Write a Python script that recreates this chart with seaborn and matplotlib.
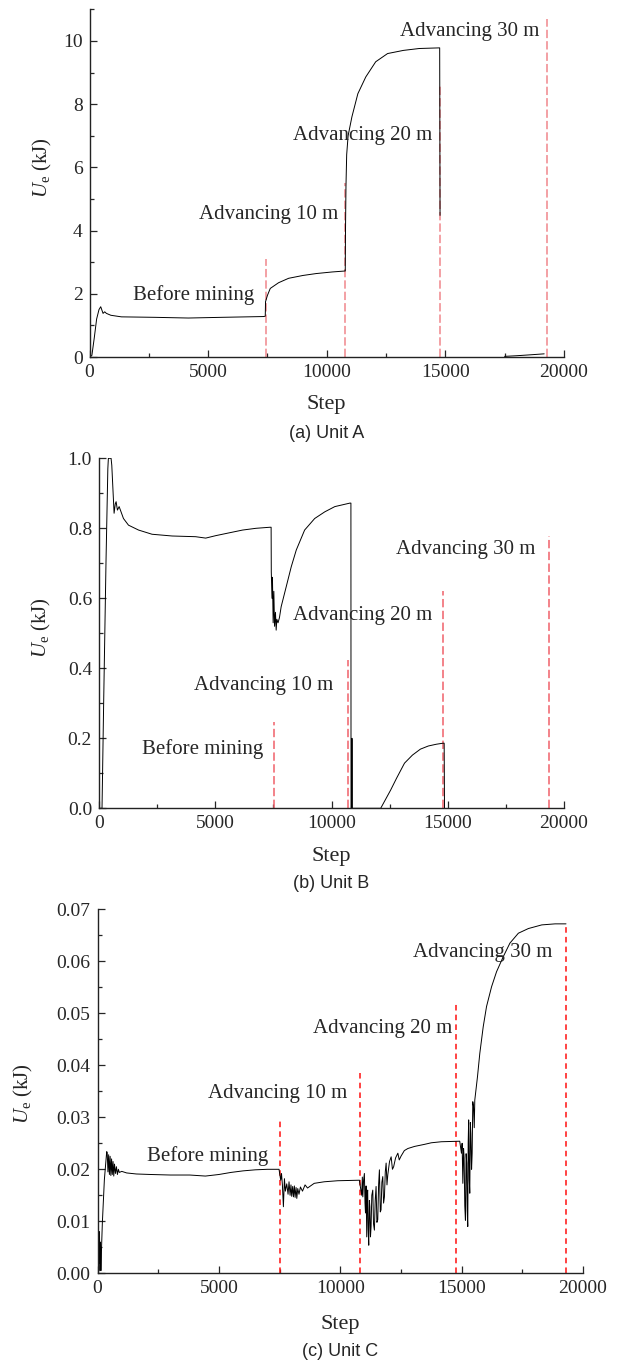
import numpy as np
import pandas as pd
import seaborn as sns
import matplotlib.pyplot as plt
from matplotlib.ticker import MultipleLocator

# ---- Unit A ----
a_step = [0, 100, 200, 300, 400, 473, 571, 641, 712, 900, 1346, 2757, 4165, 5573, 7336, 7408,
          7420, 7500, 7620, 7970, 8393, 9000, 9557, 10225, 10760, 10780, 10790, 10810, 10840,
          10900, 11061, 11311, 11645, 12063, 12564, 13233, 13901, 14760, 14775]
a_ue = [0, 0.05, 0.6, 1.2, 1.5, 1.59, 1.38, 1.43, 1.38, 1.32, 1.27, 1.255, 1.233, 1.255, 1.28, 1.29,
        1.75, 1.95, 2.17, 2.35, 2.49, 2.58, 2.64, 2.69, 2.72, 2.72, 4.0, 5.4, 6.4,
        7.0, 7.6, 8.33, 8.86, 9.34, 9.6, 9.7, 9.76, 9.78, 4.48]
a_tail_step = [17494, 18000, 18600, 19165]
a_tail_ue = [0.02, 0.04, 0.07, 0.10]
a_mine = [7419, 10777, 14787, 19298]
a_mine_top = [3.09, 5.5, 8.58, 10.69]

# ---- Unit B ----
b_step = [0, 130, 200, 300, 380, 403, 519, 550, 649, 700, 736, 792, 866, 1052, 1268, 1701, 2281,
          3147, 4156, 4589, 5022, 5597, 6177, 6753, 7350, 7403, 7410, 7440, 7460, 7490, 7520,
          7550, 7590, 7620, 7650, 7700, 7762, 7835, 8052, 8268, 8485, 8844, 9277, 9710, 10143,
          10792, 10835, 10840, 10860, 10880, 10900, 12116, 12543, 12799, 13140, 13481, 13823,
          14164, 14505, 14795, 14846, 14860]
b_ue = [0, 0, 0.3, 0.7, 0.97, 1.0, 1.0, 0.98, 0.843, 0.87, 0.876, 0.852, 0.862, 0.828, 0.809,
        0.795, 0.783, 0.778, 0.776, 0.772, 0.779, 0.787, 0.795, 0.80, 0.803, 0.803, 0.676, 0.60,
        0.66, 0.53, 0.62, 0.52, 0.56, 0.509, 0.54, 0.53, 0.545, 0.576, 0.633, 0.69, 0.738,
        0.795, 0.828, 0.847, 0.862, 0.872, 0.872, 0.0, 0.0, 0.2, 0.0, 0.0, 0.052, 0.086, 0.129,
        0.152, 0.169, 0.178, 0.183, 0.186, 0.186, 0.0]
b_mine = [7509, 10700, 14795, 19334]
b_mine_top = [0.248, 0.424, 0.621, 0.778]

# ---- Unit C ----
c_step = [0, 20, 40, 60, 80, 100, 120, 140, 160, 200, 283, 379, 400, 430, 460, 490, 520, 550,
          580, 610, 640, 670, 700, 740, 780, 820, 860, 900, 1000, 1200, 1600, 2200, 3000, 3800,
          4446, 5000, 5500, 6000, 6500, 7000, 7478,
          7547, 7580, 7617, 7658, 7700, 7740, 7796, 7850, 7890, 7934, 7970, 8000, 8040, 8072,
          8110, 8140, 8180, 8210, 8250, 8300, 8360, 8445, 8550, 8652,
          8927, 9340, 9892, 10787,
          10884, 10910, 10930, 10960, 10994, 11020, 11040, 11065, 11091, 11110, 11130, 11150,
          11174, 11200, 11220, 11245, 11270, 11300, 11340, 11370, 11407, 11440, 11476, 11510,
          11545, 11580, 11613, 11650, 11680, 11715, 11752, 11785, 11820, 11855, 11890, 11925,
          11960, 12030, 12097, 12150, 12200, 12280, 12373, 12430, 12500, 12640, 12786,
          13061, 13474, 13751, 14165, 14922,
          14992, 15020, 15050, 15080, 15103, 15130, 15157, 15185, 15210, 15230, 15253, 15270,
          15290, 15315, 15336, 15360, 15380, 15410, 15434, 15460, 15490, 15520, 15542,
          15653, 15749, 15889, 16026, 16233, 16439, 16716, 16990, 17337, 17750, 18300, 18851,
          19300]
c_ue = [0.006, 0.001, 0.0075, 0.0005, 0.008, 0.002, 0.006, 0.0005, 0.004, 0.0097, 0.018, 0.0234,
        0.0232, 0.0195, 0.0228, 0.0190, 0.0225, 0.0188, 0.0220, 0.0190, 0.0215, 0.0187, 0.0210,
        0.0192, 0.0205, 0.0190, 0.0200, 0.0194, 0.0196, 0.0193, 0.0191, 0.0190, 0.0189, 0.0189,
        0.0187, 0.0190, 0.0194, 0.0197, 0.0199, 0.0200, 0.0200,
        0.0179, 0.0192, 0.0170, 0.0128, 0.0182, 0.0158, 0.0172, 0.0152, 0.0176, 0.0150, 0.0170,
        0.0148, 0.0167, 0.0147, 0.0168, 0.0146, 0.0165, 0.0144, 0.0163, 0.0152, 0.0166, 0.0158,
        0.0170, 0.0164,
        0.0173, 0.0176, 0.0178, 0.0179,
        0.0150, 0.0185, 0.0147, 0.0178, 0.0192, 0.0135, 0.0116, 0.0168, 0.0070, 0.0150, 0.0160,
        0.0085, 0.0054, 0.0140, 0.0128, 0.0070, 0.0090, 0.0150, 0.0160, 0.0095, 0.0083, 0.0140,
        0.0167, 0.0098, 0.0103, 0.0170, 0.0199, 0.0118, 0.0122, 0.0175, 0.0186, 0.0135, 0.0147,
        0.0195, 0.0212, 0.0170, 0.0190, 0.0215, 0.0224, 0.0200, 0.0205, 0.0222, 0.0231, 0.0218,
        0.0225, 0.0236, 0.0240,
        0.0244, 0.0248, 0.0251, 0.0253, 0.0254,
        0.0231, 0.0250, 0.0173, 0.0240, 0.0222, 0.0130, 0.0102, 0.0230, 0.0212, 0.0120, 0.0090,
        0.0250, 0.0295, 0.0180, 0.0154, 0.0290, 0.0269, 0.0200, 0.0231, 0.0330, 0.0321, 0.0280,
        0.0333, 0.0378, 0.0423, 0.0474, 0.0513, 0.0551, 0.0580, 0.0609, 0.0635, 0.0654, 0.0663,
        0.0670, 0.0672, 0.0672]
c_mine = [7510, 10824, 14776, 19298]
c_mine_top = [0.0293, 0.0389, 0.0519, 0.0667]

stage_labels = ['Before mining', 'Advancing 10 m', 'Advancing 20 m', 'Advancing 30 m']
a_lab_x = [6934, 10476, 14436, 18947]
a_lab_y = [1.79, 4.36, 6.86, 10.16]
b_lab_x = [7082, 10068, 14334, 18771]
b_lab_y = [0.154, 0.338, 0.538, 0.726]
c_lab_x = [7020, 10286, 14612, 18727]
c_lab_y = [0.0215, 0.0337, 0.0463, 0.0608]

sns.set_theme(style='ticks')
plt.rcParams['font.family'] = ['Liberation Serif', 'DejaVu Serif']
plt.rcParams['mathtext.fontset'] = 'custom'
plt.rcParams['mathtext.rm'] = 'Liberation Serif'
plt.rcParams['mathtext.it'] = 'Liberation Serif:italic'
plt.rcParams['lines.scale_dashes'] = False

W, H = 619, 1364
fig = plt.figure(figsize=(W / 100, H / 100), dpi=100)

panels = [
    dict(pos=(89.5, 9.3, 564, 357), ylim=(0, 11), major=2, minor=1, fmt='{:.0f}',
         mine=a_mine, top=a_mine_top, color='#F0868C', dash=(6, 2.2), lx=a_lab_x, ly=a_lab_y,
         ylab=(42, 168), step_y=405, cap_y=434, cap='(a) Unit A'),
    dict(pos=(99, 458.3, 564, 808.3), ylim=(0, 1.0), major=0.2, minor=0.1, fmt='{:.1f}',
         mine=b_mine, top=b_mine_top, color='#F0606A', dash=(6, 2.5), lx=b_lab_x, ly=b_lab_y,
         ylab=(41, 628), step_y=856, cap_y=884, cap='(b) Unit B'),
    dict(pos=(97.5, 909.3, 583, 1273.3), ylim=(0, 0.07), major=0.01, minor=0.005, fmt='{:.2f}',
         mine=c_mine, top=c_mine_top, color='#FF1010', dash=(4, 3), lx=c_lab_x, ly=c_lab_y,
         ylab=(23, 1094), step_y=1324, cap_y=1351, cap='(c) Unit C'),
]
curves = [
    [pd.DataFrame({'Step': a_step, 'Ue': a_ue}), pd.DataFrame({'Step': a_tail_step, 'Ue': a_tail_ue})],
    [pd.DataFrame({'Step': b_step, 'Ue': b_ue})],
    [pd.DataFrame({'Step': c_step, 'Ue': c_ue})],
]

for p, segs in zip(panels, curves):
    x0, y0, x1, y1 = p['pos']
    ax = fig.add_axes([x0 / W, 1 - y1 / H, (x1 - x0) / W, (y1 - y0) / H])
    ax.vlines(p['mine'], 0, p['top'], colors=p['color'], linewidth=1.1,
              linestyles=(0, p['dash']), zorder=1)
    for d in segs:
        sns.lineplot(data=d, x='Step', y='Ue', ax=ax, color='black', linewidth=0.7,
                     sort=False, estimator=None, zorder=2)
    for t, tx, ty in zip(stage_labels, p['lx'], p['ly']):
        ax.text(tx, ty, t, ha='right', va='baseline', fontsize=15)
    ax.set_xlim(0, 20000)
    ax.set_ylim(*p['ylim'])
    ax.xaxis.set_major_locator(MultipleLocator(5000))
    ax.xaxis.set_minor_locator(MultipleLocator(2500))
    ax.yaxis.set_major_locator(MultipleLocator(p['major']))
    ax.yaxis.set_minor_locator(MultipleLocator(p['minor']))
    ax.set_yticks(ax.get_yticks())
    ax.set_yticklabels([p['fmt'].format(v) for v in ax.get_yticks()])
    ax.set_ylim(*p['ylim'])
    ax.set_xlabel('')
    ax.set_ylabel('')
    ax.tick_params(which='both', direction='in', width=0.9, labelsize=14, pad=5)
    ax.tick_params(which='major', length=5)
    ax.tick_params(which='minor', length=3)
    sns.despine(ax=ax)
    for s in ['left', 'bottom']:
        ax.spines[s].set_linewidth(1.0)
        ax.spines[s].set_color('#222222')
    cx = (x0 + x1) / 2
    fig.text(p['ylab'][0] / W, 1 - p['ylab'][1] / H, r'$U_{\mathrm{e}}$ (kJ)', rotation=90,
             ha='center', va='center', fontsize=15)
    fig.text(cx / W, 1 - p['step_y'] / H, 'Step', ha='center', va='center', fontsize=16)
    fig.text(cx / W, 1 - p['cap_y'] / H, p['cap'], ha='center', va='center', fontsize=13,
             family=['Liberation Sans Narrow', 'Liberation Sans', 'DejaVu Sans'])

fig.savefig('out.png', dpi=100)
